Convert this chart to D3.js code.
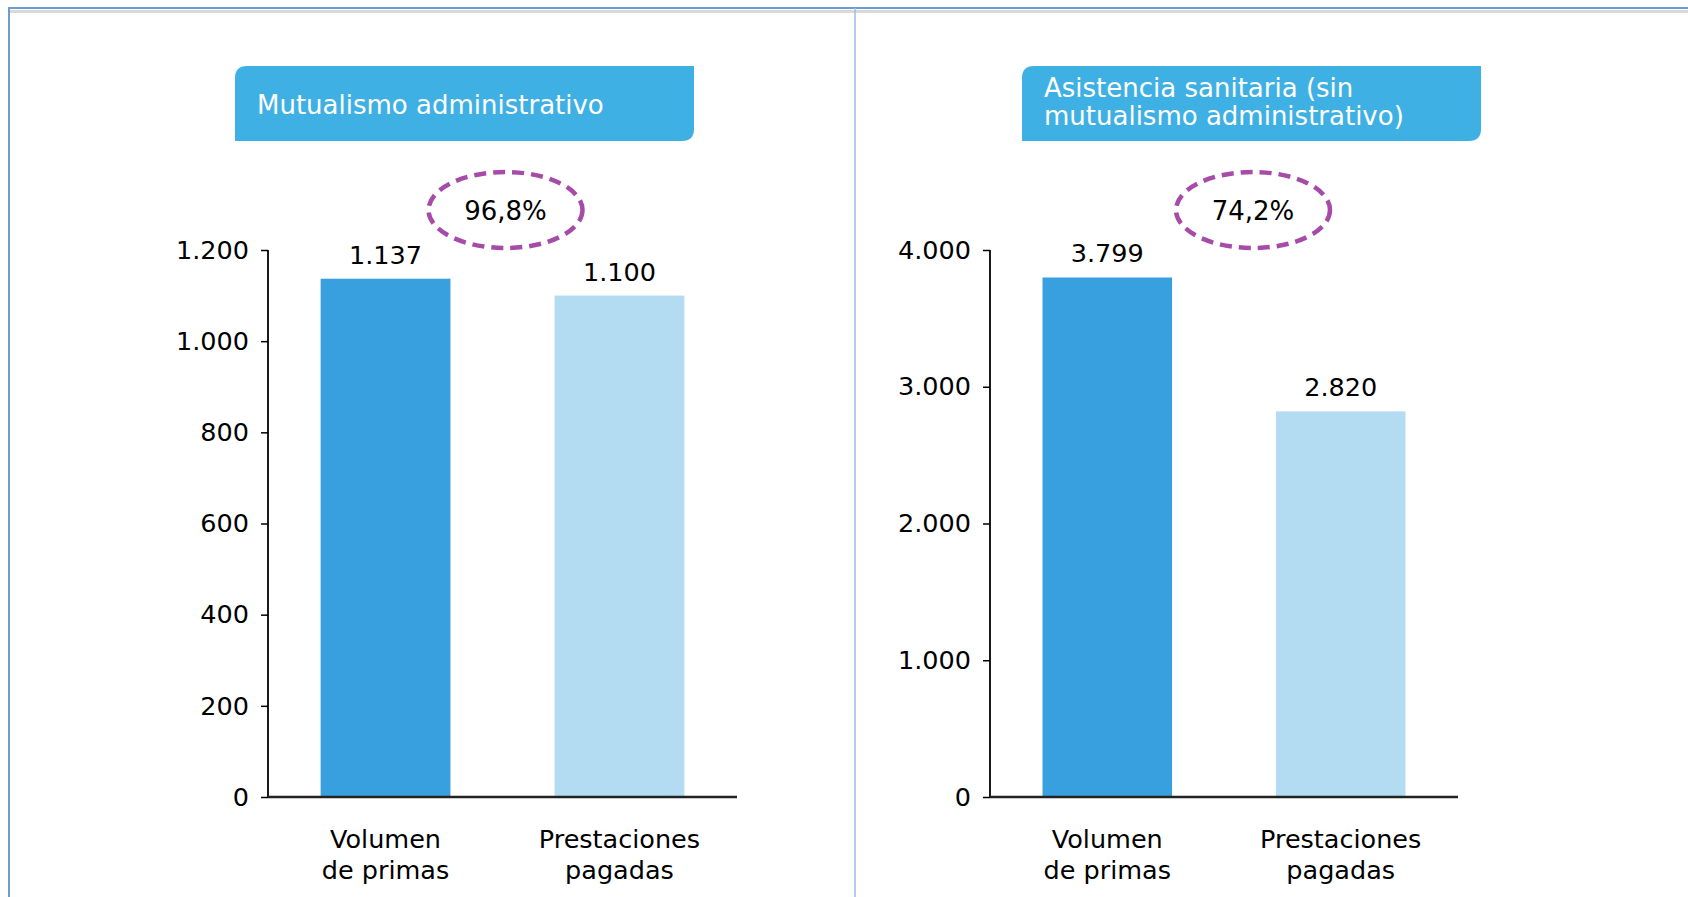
<!DOCTYPE html>
<meta charset="utf-8">
<script src="https://d3js.org/d3.v7.min.js"></script>
<style>
  body { margin: 0; background: #fff; }
  text { font-family: "DejaVu Sans", Verdana, sans-serif; }
</style>
<svg id="chart" width="1688" height="897"></svg>
<script>

// Data
var categories = [["Volumen", "de primas"], ["Prestaciones", "pagadas"]];
var mutualismoTitle = ["Mutualismo administrativo"];
var sanitariaTitle = ["Asistencia sanitaria (sin", "mutualismo administrativo)"];
var mutualismoValues = [1137, 1100];
var sanitariaValues = [3799, 2820];
var mutualismoTicks = [0, 200, 400, 600, 800, 1000, 1200];
var sanitariaTicks = [0, 1000, 2000, 3000, 4000];
var ratioLabels = ["96,8%", "74,2%"];

var barColors = ["#38a0de", "#b3dcf2"];

// spanish style numbers: 1.137
var es = d3.formatLocale({decimal: ",", thousands: ".", grouping: [3], currency: ["", " €"]});
var fmt = es.format(",d");

var svg = d3.select("#chart");

svg.append("rect").attr("width", 1688).attr("height", 897).attr("fill", "#fff");

// frame
svg.append("line").attr("x1", 8).attr("x2", 1688).attr("y1", 11.5).attr("y2", 11.5)
  .attr("stroke", "#d9d9d9").attr("stroke-width", 3);
svg.append("line").attr("x1", 8).attr("x2", 1688).attr("y1", 8).attr("y2", 8)
  .attr("stroke", "#6c9bd5").attr("stroke-width", 2);
svg.append("line").attr("x1", 9).attr("x2", 9).attr("y1", 8).attr("y2", 897)
  .attr("stroke", "#6c9bd5").attr("stroke-width", 2);
svg.append("line").attr("x1", 855).attr("x2", 855).attr("y1", 8).attr("y2", 897)
  .attr("stroke", "#9dbde3").attr("stroke-width", 1.5);

// box with rounded top-left and bottom-right corners
function titleBox(x, y, w, h, r) {
  return "M" + x + "," + (y + r) +
    "Q" + x + "," + y + " " + (x + r) + "," + y +
    "H" + (x + w) +
    "V" + (y + h - r) +
    "Q" + (x + w) + "," + (y + h) + " " + (x + w - r) + "," + (y + h) +
    "H" + x + "Z";
}

var panels = [
  {title: mutualismoTitle, values: mutualismoValues, ticks: mutualismoTicks, ratio: ratioLabels[0],
   left: 268, right: 737, boxX: 235, titleY: [114], ellipseShift: 3},
  {title: sanitariaTitle, values: sanitariaValues, ticks: sanitariaTicks, ratio: ratioLabels[1],
   left: 990, right: 1458, boxX: 1022, titleY: [97, 125], ellipseShift: 29}
];

var yTop = 250, yBottom = 797;

panels.forEach(function(p) {
  var g = svg.append("g");

  // title box
  g.append("path")
    .attr("d", titleBox(p.boxX, 66, 459, 75, 12))
    .attr("fill", "#3fb0e3");
  g.selectAll(".title").data(p.title).enter().append("text")
    .attr("x", p.boxX + 22)
    .attr("y", function(d, i) { return p.titleY[i]; })
    .attr("fill", "#fff")
    .style("font-size", "26px")
    .text(function(d) { return d; });

  var x = d3.scaleBand()
    .domain(d3.range(p.values.length))
    .range([p.left, p.right])
    .paddingInner(0.445)
    .paddingOuter(0.225);

  var y = d3.scaleLinear()
    .domain([0, d3.max(p.ticks)])
    .range([yBottom, yTop]);

  // bars
  g.selectAll(".bar").data(p.values).enter().append("rect")
    .attr("x", function(d, i) { return x(i); })
    .attr("y", function(d) { return y(d); })
    .attr("width", x.bandwidth())
    .attr("height", function(d) { return y(0) - y(d); })
    .attr("fill", function(d, i) { return barColors[i]; });

  // value labels
  g.selectAll(".val").data(p.values).enter().append("text")
    .attr("x", function(d, i) { return x(i) + x.bandwidth() / 2; })
    .attr("y", function(d) { return y(d) - 15; })
    .attr("text-anchor", "middle")
    .style("font-size", "25.5px")
    .text(function(d) { return fmt(d); });

  // y axis
  var yAxis = g.append("g")
    .attr("transform", "translate(" + p.left + ",0)")
    .call(d3.axisLeft(y).tickValues(p.ticks).tickFormat(fmt).tickSize(7).tickPadding(12));
  yAxis.select(".domain").attr("d", "M0," + yTop + "V" + yBottom).attr("stroke-width", 1.8);
  yAxis.selectAll(".tick line").attr("stroke-width", 1.5);
  yAxis.selectAll(".tick text").style("font-size", "25.5px").attr("fill", "#000")
    .style("font-family", "DejaVu Sans, sans-serif");

  // x axis line
  g.append("line")
    .attr("x1", p.left).attr("x2", p.right)
    .attr("y1", yBottom).attr("y2", yBottom)
    .attr("stroke", "#222").attr("stroke-width", 2.5);

  // category labels
  var cats = g.selectAll(".cat").data(categories).enter().append("text")
    .attr("text-anchor", "middle")
    .style("font-size", "25.5px");
  cats.selectAll("tspan").data(function(d, i) { return d.map(function(s) { return {s: s, i: i}; }); })
    .enter().append("tspan")
    .attr("x", function(d) { return x(d.i) + x.bandwidth() / 2; })
    .attr("y", function(d, j) { return 848 + j * 31; })
    .text(function(d) { return d.s; });

  // ratio ellipse
  var cx = (x(0) + x(1) + x.bandwidth()) / 2 + p.ellipseShift;
  g.append("ellipse")
    .attr("cx", cx).attr("cy", 210)
    .attr("rx", 77).attr("ry", 38)
    .attr("fill", "none")
    .attr("stroke", "#a64ca8")
    .attr("stroke-width", 4.5)
    .attr("stroke-dasharray", "12,7");
  g.append("text")
    .attr("x", cx).attr("y", 220)
    .attr("text-anchor", "middle")
    .style("font-size", "26px")
    .text(p.ratio);
});

</script>
